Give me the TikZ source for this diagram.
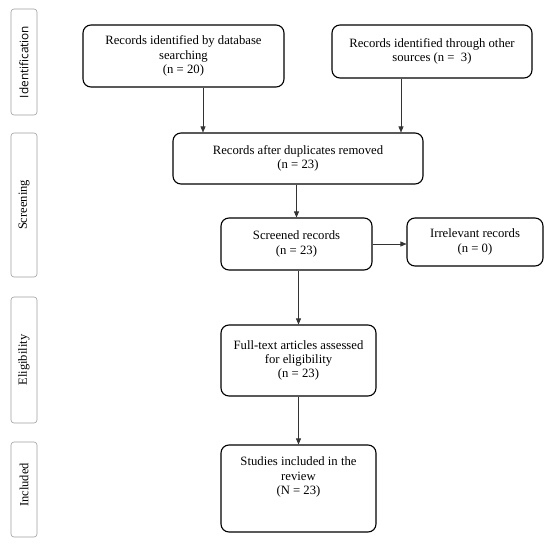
\documentclass[tikz,border=0pt]{standalone}
\usepackage{fontspec}
\setmainfont{Liberation Serif}
\newfontfamily\labsans{Open Sans}
\usetikzlibrary{arrows.meta}
\tikzset{
  box/.style={draw=black, line width=1.1pt, rounded corners=8pt, align=center,
    font=\fontsize{12.7}{14.4}\selectfont, inner sep=0pt},
  side/.style={draw=gray!75, line width=0.6pt, rounded corners=3pt, inner sep=0pt,
    minimum width=26pt},
  sidetext/.style={rotate=90, font=\fontsize{12.5}{14}\selectfont},
  arr/.style={-{Triangle[length=6pt,width=5pt]}, line width=0.6pt, draw=black!80}
}
\begin{document}
\begin{tikzpicture}[x=1pt,y=-1pt]
\useasboundingbox (0,0) rectangle (550,544);
% side labels
\node[side, minimum height=106pt] (sid) at (24,62) {};
\node[sidetext, font=\labsans\fontsize{11.8}{14}\selectfont] (tid) at (sid.center) {Identification};
\node[side, minimum height=144pt] (ssc) at (24,205) {};
\node[sidetext] (tsc) at (ssc.center) {Screening};
\node[side, minimum height=126pt] (sel) at (24,360) {};
\node[sidetext] (tel) at (sel.center) {Eligibility};
\node[side, minimum height=95pt] (sin) at (24,489.5) {};
\node[sidetext] (tin) at (24,485) {Included};
% main boxes
\node[box, minimum width=201pt, minimum height=62pt] (b1) at (183.5,56)
  {Records identified by database\\searching\\(n = 20)};
\node[box, minimum width=200pt, minimum height=53pt] (b2) at (432,51.5)
  {Records identified through other\\sources (n =\ \ 3)};
\node[box, minimum width=250pt, minimum height=51pt] (b3) at (298,158.5)
  {Records after duplicates removed\\(n = 23)};
\node[box, minimum width=151pt, minimum height=52pt] (b4) at (296.5,244)
  {Screened records\\(n = 23)};
\node[box, minimum width=136pt, minimum height=48pt] (b5) at (475,242)
  {Irrelevant records\\(n = 0)};
\node[box, minimum width=155pt, minimum height=71pt] (b6) at (298.5,360.5)
  {Full-text articles assessed\\for eligibility\\(n = 23)};
\node[box, minimum width=155pt, minimum height=87pt] (b7) at (298.5,488.5)
  {Studies included in the\\review\\(N = 23)\\[6.5pt]\strut};
% connectors
\draw[arr] ([xshift=19.5pt]b1.south) -- ([xshift=19.5pt]b1.south |- b3.north);
\draw[arr] ([xshift=-31pt]b2.south) -- ([xshift=-31pt]b2.south |- b3.north);
\draw[arr] (b3.south -| b4.north) -- (b4.north);
\draw[arr] (b4.east) -- (b4.east -| b5.west);
\draw[arr] (b4.south -| b6.north) -- (b6.north);
\draw[arr] (b6.south) -- (b7.north);
\end{tikzpicture}
\end{document}
